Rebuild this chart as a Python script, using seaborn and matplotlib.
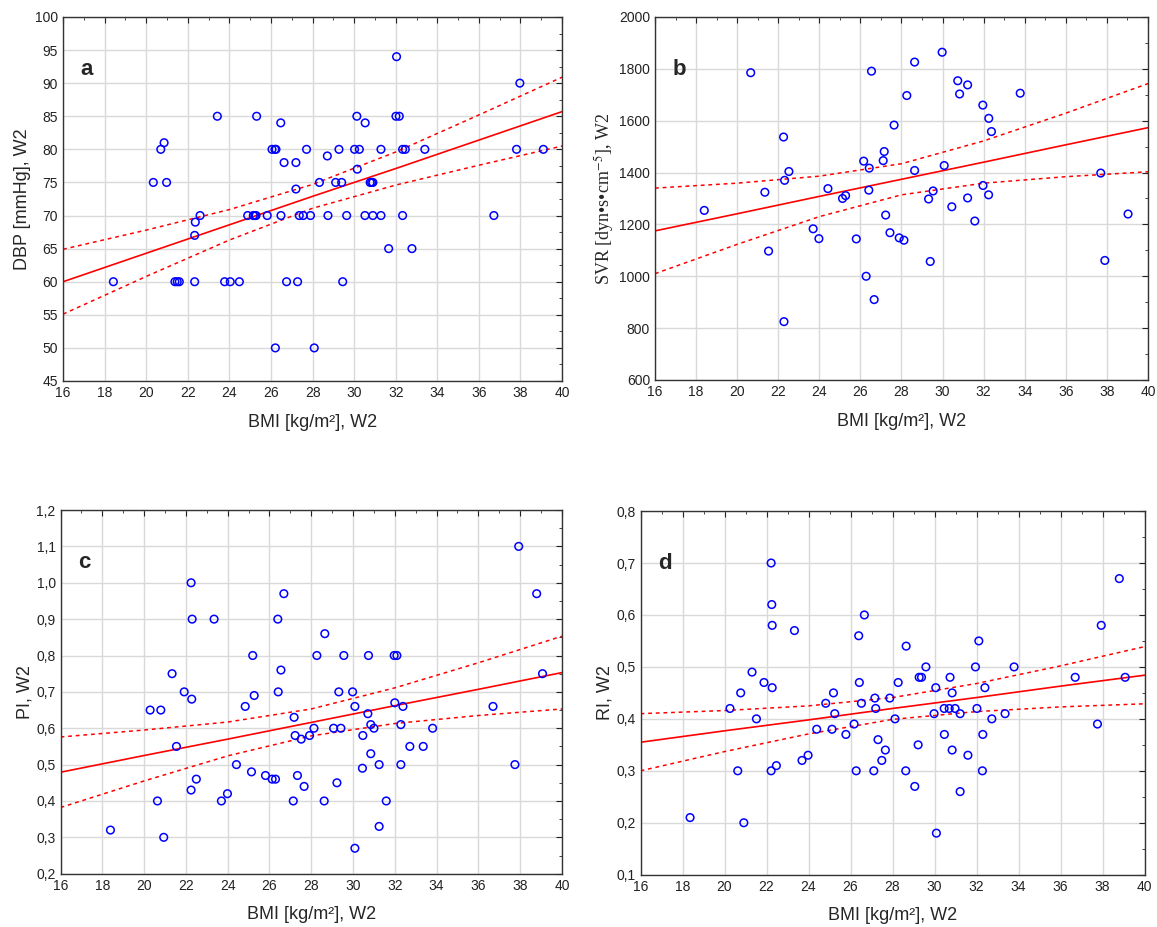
import numpy as np
import pandas as pd
import seaborn as sns
import matplotlib
matplotlib.use("Agg")
from matplotlib import pyplot as plt
from matplotlib.ticker import MultipleLocator, FuncFormatter

sns.set_style("white")
plt.rcParams["font.family"] = ["Liberation Sans", "DejaVu Sans"]
plt.rcParams["mathtext.fontset"] = "stix"

# --- scatter data ---
bmi_a = [18.42, 20.34, 20.70, 20.86, 20.98, 21.38, 21.49, 21.59, 22.33, 22.33, 22.36, 22.59,
         23.42, 23.77, 24.04, 24.48, 24.88, 25.15, 25.23, 25.28, 25.31, 25.82, 26.05, 26.19,
         26.24, 26.47, 26.48, 26.63, 26.75, 27.20, 27.20, 27.28, 27.36, 27.55, 27.71, 27.90,
         28.33, 28.71, 28.74, 29.11, 29.40, 29.27, 29.45, 29.64, 30.02, 30.25, 30.13, 30.15,
         30.53, 30.52, 30.90, 31.29, 30.77, 30.84, 30.90, 31.29, 31.66, 32.04, 32.01, 32.17,
         32.33, 32.46, 32.33, 32.78, 33.40, 36.72, 37.81, 37.97, 39.10, 26.21, 28.08]
dbp = [60, 75, 80, 81, 75, 60, 60, 60, 60, 67, 69, 70,
       85, 60, 60, 60, 70, 70, 70, 70, 85, 70, 80, 80,
       80, 84, 70, 78, 60, 78, 74, 60, 70, 70, 80, 70,
       75, 79, 70, 75, 75, 80, 60, 70, 80, 80, 85, 77,
       84, 70, 70, 70, 75, 75, 75, 80, 65, 94, 85, 85,
       80, 80, 70, 65, 80, 70, 80, 90, 80, 50, 50]

bmi_b = [18.40, 20.66, 21.35, 21.53, 22.26, 22.31, 22.52, 22.28, 23.70, 23.98, 24.42, 25.13,
         25.28, 25.80, 26.16, 26.28, 26.43, 26.41, 26.54, 26.67, 27.11, 27.16, 27.23, 27.44,
         27.64, 27.89, 28.12, 28.26, 28.64, 28.64, 29.32, 29.40, 29.54, 29.98, 30.08, 30.45,
         30.74, 30.83, 31.22, 31.22, 31.57, 31.96, 31.97, 32.25, 32.24, 32.38, 33.78, 37.70,
         37.90, 39.03]
svr = [1254, 1785, 1324, 1097, 1537, 1370, 1404, 825, 1183, 1145, 1338, 1300,
       1311, 1144, 1444, 1000, 1417, 1332, 1791, 910, 1446, 1481, 1236, 1168,
       1583, 1148, 1139, 1697, 1826, 1408, 1298, 1057, 1329, 1864, 1427, 1268,
       1754, 1703, 1738, 1302, 1213, 1660, 1350, 1609, 1314, 1558, 1706, 1398,
       1061, 1240]

bmi_c = [18.39, 20.29, 20.64, 20.80, 20.94, 21.34, 21.55, 21.92, 22.25, 22.28, 22.30, 22.25,
         22.50, 23.35, 23.70, 23.99, 24.42, 24.84, 25.14, 25.20, 25.27, 25.81, 26.13, 26.29,
         26.40, 26.42, 26.55, 26.69, 27.14, 27.18, 27.23, 27.34, 27.52, 27.66, 27.92, 28.13,
         28.27, 28.62, 28.65, 29.07, 29.23, 29.32, 29.42, 29.56, 29.98, 30.09, 30.09, 30.45,
         30.47, 30.71, 30.74, 30.85, 30.85, 31.00, 31.25, 31.25, 31.59, 31.97, 32.00, 32.10,
         32.29, 32.29, 32.39, 32.72, 33.36, 33.81, 36.70, 37.75, 37.93, 38.79, 39.07]
pi = [0.32, 0.65, 0.40, 0.65, 0.30, 0.75, 0.55, 0.70, 1.00, 0.68, 0.90, 0.43,
      0.46, 0.90, 0.40, 0.42, 0.50, 0.66, 0.48, 0.80, 0.69, 0.47, 0.46, 0.46,
      0.90, 0.70, 0.76, 0.97, 0.40, 0.63, 0.58, 0.47, 0.57, 0.44, 0.58, 0.60,
      0.80, 0.40, 0.86, 0.60, 0.45, 0.70, 0.60, 0.80, 0.70, 0.66, 0.27, 0.49,
      0.58, 0.64, 0.80, 0.61, 0.53, 0.60, 0.50, 0.33, 0.40, 0.80, 0.67, 0.80,
      0.61, 0.50, 0.66, 0.55, 0.55, 0.60, 0.66, 0.50, 1.10, 0.97, 0.75]

bmi_d = [18.36, 20.26, 20.63, 20.77, 20.92, 21.31, 21.52, 21.88, 22.22, 22.25, 22.27, 22.27,
         22.22, 22.47, 23.33, 23.69, 23.98, 24.39, 24.82, 25.12, 25.19, 25.25, 25.78, 26.17,
         26.27, 26.39, 26.42, 26.52, 26.66, 27.11, 27.16, 27.20, 27.31, 27.49, 27.66, 27.87,
         28.12, 28.27, 28.63, 28.65, 29.06, 29.22, 29.27, 29.38, 29.59, 29.98, 30.06, 30.09,
         30.46, 30.47, 30.70, 30.74, 30.84, 30.84, 30.98, 31.22, 31.22, 31.59, 31.95, 32.02,
         32.11, 32.28, 32.30, 32.40, 32.73, 33.36, 33.79, 36.70, 37.76, 37.94, 38.80, 39.08]
ri = [0.21, 0.42, 0.30, 0.45, 0.20, 0.49, 0.40, 0.47, 0.70, 0.62, 0.58, 0.46,
      0.30, 0.31, 0.57, 0.32, 0.33, 0.38, 0.43, 0.38, 0.45, 0.41, 0.37, 0.39,
      0.30, 0.56, 0.47, 0.43, 0.60, 0.30, 0.44, 0.42, 0.36, 0.32, 0.34, 0.44,
      0.40, 0.47, 0.30, 0.54, 0.27, 0.35, 0.48, 0.48, 0.50, 0.41, 0.46, 0.18,
      0.42, 0.37, 0.42, 0.48, 0.45, 0.34, 0.42, 0.41, 0.26, 0.33, 0.50, 0.42,
      0.55, 0.30, 0.37, 0.46, 0.40, 0.41, 0.50, 0.48, 0.39, 0.58, 0.67, 0.48]

# --- regression line and 95% bands at these BMI values ---
bmi_grid = [16, 20, 24, 28, 32, 36, 40]
fit_a = [60.0, 64.3, 68.6, 72.9, 77.1, 81.4, 85.7]
up_a = [64.9, 67.8, 70.9, 74.7, 79.6, 85.2, 90.9]
lo_a = [55.1, 60.8, 66.3, 71.1, 74.6, 77.6, 80.5]
fit_b = [1175, 1241, 1308, 1374, 1440, 1507, 1573]
up_b = [1340, 1359, 1386, 1434, 1522, 1629, 1743]
lo_b = [1010, 1123, 1230, 1314, 1359, 1384, 1403]
fit_c = [0.479, 0.525, 0.570, 0.616, 0.662, 0.707, 0.753]
up_c = [0.576, 0.595, 0.617, 0.653, 0.711, 0.780, 0.853]
lo_c = [0.382, 0.455, 0.524, 0.579, 0.613, 0.635, 0.653]
fit_d = [0.355, 0.377, 0.398, 0.420, 0.441, 0.463, 0.484]
up_d = [0.410, 0.416, 0.425, 0.441, 0.468, 0.502, 0.539]
lo_d = [0.300, 0.337, 0.371, 0.399, 0.414, 0.423, 0.429]


def reg_panel(ax, x, y, fit, up, lo, letter, ylabel, ylim, ystep, yminor,
              comma=False, serif=False, ypad=3):
    sns.scatterplot(x=x, y=y, ax=ax, marker="o", s=30, facecolor="none",
                    edgecolor="#0000ff", linewidth=1.1, zorder=3)
    lines = pd.DataFrame({"bmi": bmi_grid, "fit": fit, "up": up, "lo": lo})
    sns.lineplot(data=lines, x="bmi", y="fit", ax=ax, color="red", lw=1.2, zorder=2)
    for c in ["up", "lo"]:
        sns.lineplot(data=lines, x="bmi", y=c, ax=ax, color="red", lw=1.1,
                     linestyle=(0, (2.5, 2.5)), zorder=2)

    ax.set_xlim(16, 40)
    ax.set_ylim(*ylim)
    ax.xaxis.set_major_locator(MultipleLocator(2))
    ax.xaxis.set_minor_locator(MultipleLocator(1))
    ax.yaxis.set_major_locator(MultipleLocator(ystep))
    ax.yaxis.set_minor_locator(MultipleLocator(yminor))
    if comma:
        ax.yaxis.set_major_formatter(FuncFormatter(lambda v, p: f"{v:.1f}".replace(".", ",")))
    ax.grid(True, which="major", color="#d9d9d9", lw=1.0, zorder=0)
    ax.tick_params(which="both", direction="in", top=True, right=True,
                   labelsize=10, colors="#222222")
    ax.tick_params(which="major", length=4)
    ax.tick_params(which="minor", length=2.5)
    for sp in ax.spines.values():
        sp.set_color("#333333")
        sp.set_linewidth(1.0)
    ax.set_xlabel("BMI [kg/m²], W2", fontsize=13, labelpad=10)
    if serif:
        ax.set_ylabel(ylabel, fontsize=13, family="Liberation Serif", labelpad=ypad)
    else:
        ax.set_ylabel(ylabel, fontsize=13, labelpad=ypad)
    ax.text(0.035, 0.855, letter, transform=ax.transAxes, fontsize=16,
            fontweight="bold", ha="left", va="center")


fig = plt.figure(figsize=(11.57, 9.27), dpi=100)
ax_a = fig.add_axes([0.0545, 0.589, 0.4313, 0.3927])
ax_b = fig.add_axes([0.5661, 0.5901, 0.4261, 0.3916])
ax_c = fig.add_axes([0.0523, 0.0575, 0.4334, 0.3923])
ax_d = fig.add_axes([0.5536, 0.0564, 0.4356, 0.3923])

reg_panel(ax_a, bmi_a, dbp, fit_a, up_a, lo_a, "a", "DBP [mmHg], W2", (45, 100), 5, 2.5, ypad=3)
reg_panel(ax_b, bmi_b, svr, fit_b, up_b, lo_b, "b", r"SVR [dyn•s•cm$^{-5}$], W2",
          (600, 2000), 200, 100, serif=True, ypad=2)
reg_panel(ax_c, bmi_c, pi, fit_c, up_c, lo_c, "c", "PI, W2", (0.2, 1.2), 0.1, 0.05,
          comma=True, ypad=2)
reg_panel(ax_d, bmi_d, ri, fit_d, up_d, lo_d, "d", "RI, W2", (0.1, 0.8), 0.1, 0.05,
          comma=True, ypad=2)

fig.savefig("out.png", dpi=100)
